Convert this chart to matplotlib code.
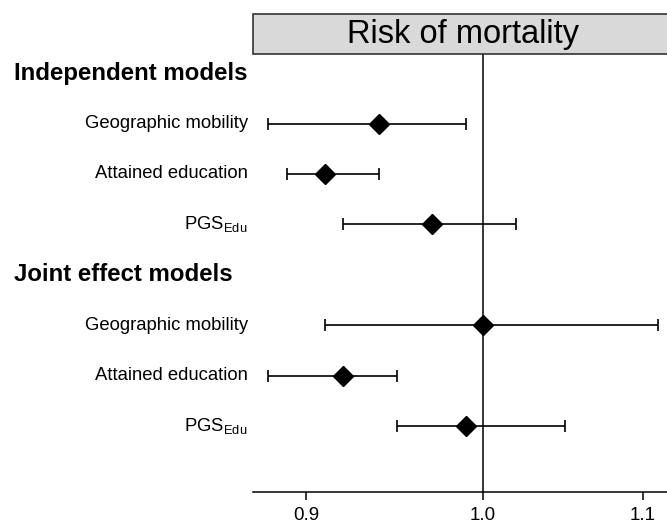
import numpy as np
from matplotlib import pyplot as plt
from matplotlib.patches import Rectangle
from matplotlib.transforms import blended_transform_factory

plt.rcParams['font.family'] = ['Liberation Sans', 'DejaVu Sans']
plt.rcParams['mathtext.fontset'] = 'custom'
plt.rcParams['mathtext.rm'] = 'Liberation Sans'

# data
groups = ['Independent models', 'Joint effect models']
labels = ['Geographic mobility', 'Attained education', r'PGS$_{\mathrm{Edu}}$']
est = [[0.94, 0.91, 0.97], [1.00, 0.92, 0.99]]
lo = [[0.88, 0.89, 0.92], [0.91, 0.88, 0.95]]
hi = [[0.99, 0.94, 1.02], [1.11, 0.95, 1.05]]

W, H = 667, 524
fig = plt.figure(figsize=(W / 100, H / 100), dpi=100)
ax = fig.add_axes([253 / W, (H - 492) / H, (W - 253) / W + 0.02, (492 - 54) / H])

ax.set_xscale('log')
ax.set_xlim(0.872, 1.125)
ax.set_ylim(9.31, 0.62)

trans = blended_transform_factory(ax.transAxes, ax.transData)
ftrans = blended_transform_factory(fig.transFigure, ax.transData)

pos = 1
for g in range(len(groups)):
    ax.text(14 / W, pos, groups[g], transform=ftrans, ha='left', va='center',
            fontsize=17.3, fontweight='bold')
    pos += 1
    for i in range(len(labels)):
        ax.errorbar(est[g][i], pos,
                    xerr=[[est[g][i] - lo[g][i]], [hi[g][i] - est[g][i]]],
                    fmt='D', color='black', markersize=10, elinewidth=1.2,
                    capsize=4, capthick=1.2, zorder=3)
        ax.text(-0.012, pos, labels[i], transform=trans, ha='right', va='center',
                fontsize=13.3)
        pos += 1

ax.axvline(1.0, color='black', linewidth=1.1, zorder=1)

for s in ['top', 'right', 'left']:
    ax.spines[s].set_visible(False)
ax.spines['bottom'].set_linewidth(1.1)
ax.set_yticks([])
ax.set_xticks([0.9, 1.0, 1.1])
ax.set_xticklabels(['0.9', '1.0', '1.1'])
ax.xaxis.set_minor_locator(plt.NullLocator())
ax.tick_params(axis='x', length=6, width=1.1, labelsize=13.5, pad=5)

# header box
fig.patches.append(Rectangle((253 / W, (H - 54) / H), (W - 253) / W + 0.05, 40 / H,
                             transform=fig.transFigure, facecolor='#d9d9d9',
                             edgecolor='#333333', linewidth=1.2))
fig.text(463 / W, (H - 34) / H, 'Risk of mortality', ha='center',
         va='center', fontsize=23.5)

plt.savefig('out.png', dpi=100)
